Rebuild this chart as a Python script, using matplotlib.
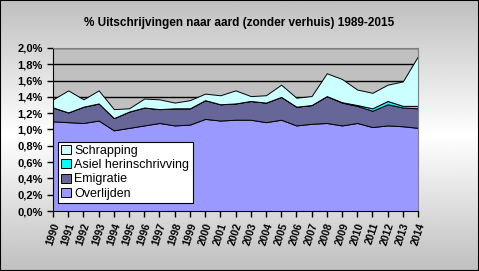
import matplotlib
matplotlib.use("Agg")
import matplotlib.pyplot as plt
import numpy as np
from matplotlib.ticker import FuncFormatter

# ── data (percent of population) ──
years = list(range(1990, 2015))
overlijden = [1.10, 1.09, 1.08, 1.11, 0.99, 1.02, 1.05, 1.08, 1.05, 1.06,
              1.13, 1.11, 1.12, 1.12, 1.09, 1.12, 1.05, 1.07, 1.08, 1.05,
              1.08, 1.03, 1.05, 1.04, 1.02]
emigratie = [0.17, 0.12, 0.20, 0.21, 0.15, 0.20, 0.22, 0.17, 0.21, 0.20,
             0.23, 0.20, 0.20, 0.23, 0.24, 0.28, 0.23, 0.23, 0.33, 0.28,
             0.21, 0.20, 0.26, 0.23, 0.24]
asiel = [0, 0, 0, 0, 0, 0, 0, 0, 0, 0,
         0, 0, 0, 0, 0, 0, 0, 0, 0, 0.005,
         0.01, 0.03, 0.04, 0.02, 0.03]
schrapping = [0.10, 0.27, 0.09, 0.16, 0.11, 0.04, 0.11, 0.12, 0.07, 0.10,
              0.08, 0.11, 0.16, 0.06, 0.09, 0.15, 0.11, 0.11, 0.28, 0.285,
              0.19, 0.19, 0.20, 0.30, 0.61]
labels = ["Overlijden", "Emigratie", "Asiel herinschrivving", "Schrapping"]
colors = ["#9999FF", "#666699", "#00FFFF", "#CCFFFF"]

plt.rcParams["font.family"] = ["Liberation Sans", "DejaVu Sans"]

fig = plt.figure(figsize=(4.79, 2.71), dpi=100)

# gradient background: gray top/bottom, white in the middle
bg = fig.add_axes([0, 0, 1, 1], zorder=-10)
yy = np.linspace(0, 1, 200)
shade = 1 - 0.25 * np.abs(yy - 0.5) / 0.5
bg.imshow(np.tile(shade[:, None], (1, 10)), cmap="gray", vmin=0, vmax=1,
          aspect="auto", extent=[0, 1, 0, 1], origin="lower")
bg.set_xlim(0, 1); bg.set_ylim(0, 1)
bg.set_xticks([]); bg.set_yticks([])
for s in bg.spines.values():
    s.set_linewidth(1.5)

ax = fig.add_axes([0.1107, 0.2214, 0.7620, 0.6015])
ax.set_facecolor("#C0C0C0")
ax.stackplot(years, overlijden, emigratie, asiel, schrapping,
             colors=colors, labels=labels, edgecolor="black", linewidth=0.7)

for v in np.arange(0.2, 2.01, 0.2):
    ax.axhline(v, color="black", linewidth=1, zorder=0.5)

ax.set_xlim(1990, 2014)
ax.set_ylim(0, 2.0)
ax.set_yticks(np.arange(0, 2.01, 0.2))
ax.yaxis.set_major_formatter(FuncFormatter(lambda v, p: f"{v:.1f}%".replace(".", ",")))
ax.set_xticks(years)
ax.set_xticklabels([str(y) for y in years], rotation=72, fontweight="bold",
                   fontsize=7.5, ha="center", va="top")
for t in ax.get_yticklabels():
    t.set_fontweight("bold")
    t.set_fontsize(8)
ax.tick_params(axis="both", direction="out", length=4, width=1, color="black")
for side in ["top", "right"]:
    ax.spines[side].set_color("#808080")
ax.spines["left"].set_color("black")
ax.spines["bottom"].set_color("black")

fig.text(0.5, 0.915, "% Uitschrijvingen naar aard (zonder verhuis) 1989-2015",
         ha="center", va="center", fontsize=8.5, fontweight="bold")

h, l = ax.get_legend_handles_labels()
leg = ax.legend(h[::-1], l[::-1], loc="lower left", bbox_to_anchor=(0.014, 0.05),
                fontsize=9, frameon=True, fancybox=False, framealpha=1,
                edgecolor="black", handlelength=0.75, handleheight=0.75,
                handletextpad=0.3, labelspacing=0.18, borderpad=0.25,
                borderaxespad=0)
leg.get_frame().set_linewidth(0.8)

fig.savefig("out.png", dpi=100)
